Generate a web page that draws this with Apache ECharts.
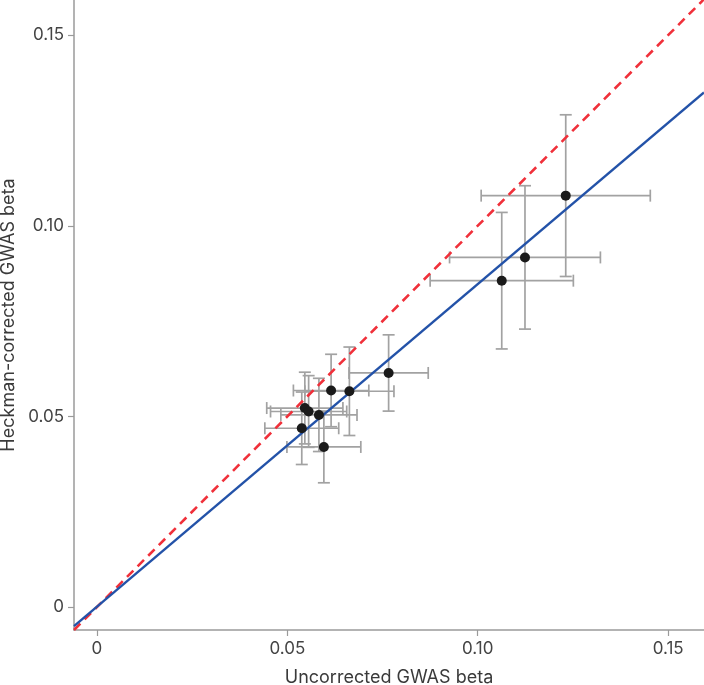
<!DOCTYPE html>
<html>
<head>
<meta charset="utf-8">
<script src="https://cdn.jsdelivr.net/npm/echarts@6/dist/echarts.min.js"></script>
<style>
html,body{margin:0;padding:0;background:#fff;}
#chart{width:704px;height:685px;}
</style>
</head>
<body>
<div id="chart"></div>
<script>
// Data
const xVals = [0.1231, 0.1124, 0.1063, 0.0766, 0.0663, 0.0615, 0.0546, 0.0556, 0.0583, 0.0538, 0.0596];
const yVals = [0.1079, 0.0917, 0.0856, 0.0614, 0.0566, 0.0568, 0.0522, 0.0513, 0.0504, 0.0469, 0.0420];
const xErr  = [0.0222, 0.0198, 0.0188, 0.0104, 0.0117, 0.0099, 0.0100, 0.0100, 0.0100, 0.0097, 0.0097];
const yErr  = [0.0212, 0.0188, 0.0179, 0.0100, 0.0116, 0.0095, 0.0094, 0.0094, 0.0096, 0.0095, 0.0094];
const tickValues = [0, 0.05, 0.10, 0.15];
const fitSlope = 0.846;
const fitIntercept = 0.0001;
const xMin = -0.006, xMax = 0.1594;
const yMin = -0.006, yMax = 0.1592;

const points = xVals.map((x, i) => [x, yVals[i]]);
const errData = xVals.map((x, i) => [x, yVals[i], x - xErr[i], x + xErr[i], yVals[i] - yErr[i], yVals[i] + yErr[i]]);
const identityLine = [[xMin, xMin], [xMax, xMax]];
const fitLine = [[xMin, fitSlope * xMin + fitIntercept], [xMax, fitSlope * xMax + fitIntercept]];

const fontFam = 'Inter, "Liberation Sans", Arial, sans-serif';
const fmt = v => (v === 0 ? '0' : v.toFixed(2));

const chart = echarts.init(document.getElementById('chart'));
const errStyle = { stroke: '#a2a2a2', lineWidth: 1.7 };
const cap = 6;

chart.setOption({
  animation: false,
  backgroundColor: '#fff',
  grid: { left: 74, right: 0, top: 0, bottom: 55, containLabel: false, outerBoundsMode: 'none' },
  xAxis: {
    type: 'value', min: xMin, max: xMax,
    name: 'Uncorrected GWAS beta', nameLocation: 'middle', nameGap: 39,
    nameTextStyle: { fontSize: 18, color: '#3a3a3a', fontFamily: fontFam },
    axisLine: { show: true, onZero: false, lineStyle: { color: '#9a9a9a', width: 1.5 } },
    axisTick: { show: true, length: 6, customValues: tickValues, lineStyle: { color: '#9a9a9a', width: 1.2 } },
    axisLabel: { customValues: tickValues, formatter: fmt, fontSize: 17, color: '#444', margin: 10, fontFamily: fontFam },
    splitLine: { show: false }
  },
  yAxis: {
    type: 'value', min: yMin, max: yMax,
    name: 'Heckman-corrected GWAS beta', nameLocation: 'middle', nameGap: 53,
    nameTextStyle: { fontSize: 18, color: '#3a3a3a', fontFamily: fontFam },
    axisLine: { show: true, onZero: false, lineStyle: { color: '#9a9a9a', width: 1.5 } },
    axisTick: { show: true, length: 6, customValues: tickValues, lineStyle: { color: '#9a9a9a', width: 1.2 } },
    axisLabel: { customValues: tickValues, formatter: fmt, fontSize: 17, color: '#444', margin: 10, fontFamily: fontFam },
    splitLine: { show: false }
  },
  series: [
    {
      type: 'custom', z: 1, clip: true,
      data: errData,
      renderItem: function (params, api) {
        const c = api.coord([api.value(0), api.value(1)]);
        const xl = api.coord([api.value(2), api.value(1)]);
        const xh = api.coord([api.value(3), api.value(1)]);
        const yl = api.coord([api.value(0), api.value(4)]);
        const yh = api.coord([api.value(0), api.value(5)]);
        return {
          type: 'group',
          children: [
            { type: 'line', shape: { x1: xl[0], y1: c[1], x2: xh[0], y2: c[1] }, style: errStyle },
            { type: 'line', shape: { x1: xl[0], y1: c[1] - cap, x2: xl[0], y2: c[1] + cap }, style: errStyle },
            { type: 'line', shape: { x1: xh[0], y1: c[1] - cap, x2: xh[0], y2: c[1] + cap }, style: errStyle },
            { type: 'line', shape: { x1: c[0], y1: yl[1], x2: c[0], y2: yh[1] }, style: errStyle },
            { type: 'line', shape: { x1: c[0] - cap, y1: yl[1], x2: c[0] + cap, y2: yl[1] }, style: errStyle },
            { type: 'line', shape: { x1: c[0] - cap, y1: yh[1], x2: c[0] + cap, y2: yh[1] }, style: errStyle }
          ]
        };
      }
    },
    {
      type: 'line', z: 2, data: identityLine, symbol: 'none', silent: true,
      lineStyle: { color: '#f0303a', width: 2.6, type: [9, 6] }
    },
    {
      type: 'line', z: 3, data: fitLine, symbol: 'none', silent: true,
      lineStyle: { color: '#2352a8', width: 2.4 }
    },
    {
      type: 'scatter', z: 4, data: points, symbol: 'circle', symbolSize: 10,
      itemStyle: { color: '#1a1a1a', opacity: 1 }
    }
  ]
});
</script>
</body>
</html>
